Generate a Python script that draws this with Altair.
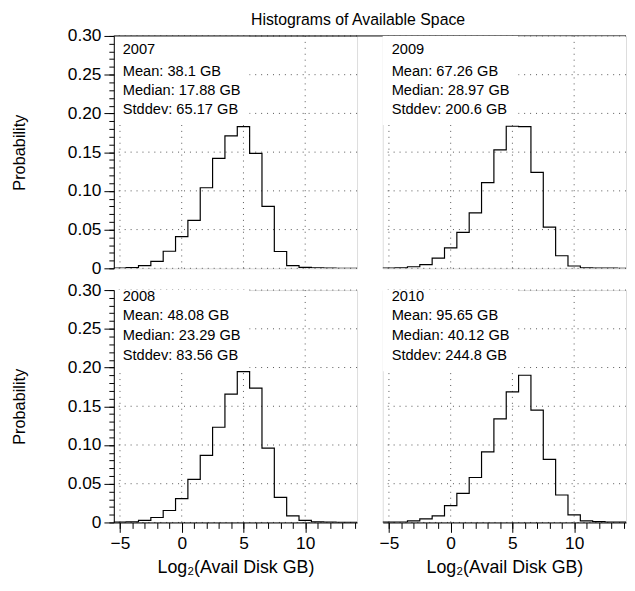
import altair as alt
import pandas as pd

# ---------------- data ----------------
bins = [-6, -5, -4, -3, -2, -1, 0, 1, 2, 3, 4, 5, 6, 7, 8, 9, 10, 11, 12, 13, 14, 15]
p2007 = [0.0, 0.0004, 0.0008, 0.0035, 0.009, 0.022, 0.041, 0.062, 0.104, 0.142, 0.171,
         0.183, 0.1485, 0.080, 0.0217, 0.0035, 0.0012, 0.0007, 0.0002, 0.0001, 0.0001, 0.0]
p2009 = [0.0, 0.0003, 0.0005, 0.002, 0.0047, 0.0132, 0.0264, 0.0464, 0.0715, 0.1107, 0.1528,
         0.1834, 0.183, 0.1238, 0.0532, 0.0162, 0.003, 0.0006, 0.0003, 0.0002, 0.0001, 0.0]
p2008 = [0.0, 0.0004, 0.0008, 0.0026, 0.0064, 0.0154, 0.0307, 0.0555, 0.0866, 0.1229, 0.1656,
         0.1946, 0.1733, 0.096, 0.0324, 0.0085, 0.0026, 0.0008, 0.0003, 0.0001, 0.0001, 0.0]
p2010 = [0.0, 0.0004, 0.0006, 0.0021, 0.0047, 0.0085, 0.0218, 0.0376, 0.058, 0.091, 0.1336,
         0.1686, 0.190, 0.1451, 0.0815, 0.0354, 0.0098, 0.0021, 0.001, 0.0005, 0.0003, 0.0]

years = ["2007", "2009", "2008", "2010"]
means = ["38.1", "67.26", "48.08", "95.65"]
medians = ["17.88", "28.97", "23.29", "40.12"]
stddevs = ["65.17", "200.6", "83.56", "244.8"]

y_major = [0, 0.05, 0.10, 0.15, 0.20, 0.25, 0.30]
y_minor = [round(i * 0.01, 2) for i in range(31)]
x_major = [-5, 0, 5, 10]
x_minor = list(range(-5, 15))

chart_title = "Histograms of Available Space"
x_title = "Log\u2082(Avail Disk GB)"
y_title = "Probability"

# ---------------- layout ----------------
W, H = 246, 235
GAP_X, GAP_Y = 26, 22
FONT = "Liberation Sans"
XDOM = [-5.5, 14.2]
YDOM = [0, 0.30]


def xs():
    return alt.Scale(domain=XDOM, nice=False, zero=False)


def ys():
    return alt.Scale(domain=YDOM, nice=False, zero=False)


dummy = pd.DataFrame({"a": [0]})
grid_style = dict(color="#555555", strokeWidth=1, strokeDash=[1, 5])


def panel(probs, idx, left, bottom, top_row):
    hist_df = pd.DataFrame({"bin": bins, "p": probs})
    layers = []

    if left:
        y_major_axis = alt.Axis(
            values=y_major, tickSize=10, labelPadding=3, labelFontSize=17.5,
            labelExpr="datum.value == 0 ? '0' : format(datum.value, '.2f')",
            title=y_title, titleX=-95.5, titleY=H / 2, titleAngle=270,
            titleAlign="center", titleBaseline="middle", titleFontSize=16.5,
            titleFontWeight="normal", grid=False, domainColor="black",
            tickColor="black", labelColor="black", titleColor="black",
            orient="left", zindex=1, labelFont=FONT, titleFont=FONT)
    else:
        y_major_axis = None
    hgrid = alt.Chart(pd.DataFrame({"v": y_major})).mark_rule(**grid_style).encode(
        y=alt.Y("v:Q", scale=ys(), axis=y_major_axis))
    layers.append(hgrid)

    if bottom:
        x_major_axis = alt.Axis(
            values=x_major, tickSize=10, labelPadding=2, labelFontSize=17.5,
            title=x_title, titleX=W / 2, titleY=51, titleAlign="center",
            titleBaseline="alphabetic", titleFontSize=18, titleFontWeight="normal",
            grid=False, domainColor="black", tickColor="black", labelColor="black",
            titleColor="black", orient="bottom", zindex=1, labelFont=FONT,
            titleFont=FONT, labelFlush=False, labelOverlap=False)
    else:
        x_major_axis = None
    vgrid = alt.Chart(pd.DataFrame({"v": x_major})).mark_rule(**grid_style).encode(
        x=alt.X("v:Q", scale=xs(), axis=x_major_axis))
    layers.append(vgrid)

    box_h = 90 if top_row else 82
    box = alt.Chart(dummy).mark_rect(color="white").encode(
        x=alt.value(0), x2=alt.value(137), y=alt.value(0), y2=alt.value(box_h))
    layers.append(box)

    y_minor_axis = alt.Axis(values=y_minor, tickSize=5, labels=False, domain=False,
                            title=None, grid=False, orient="left", tickColor="black",
                            zindex=1) if left else None
    x_minor_axis = alt.Axis(values=x_minor, tickSize=6, labels=False, domain=False,
                            title=None, grid=False, orient="bottom", tickColor="black",
                            zindex=1) if bottom else None
    hist = alt.Chart(hist_df).mark_line(interpolate="step", color="black",
                                        strokeWidth=1.2, clip=True).encode(
        x=alt.X("bin:Q", scale=xs(), axis=x_minor_axis),
        y=alt.Y("p:Q", scale=ys(), axis=y_minor_axis))
    layers.append(hist)

    lines = [years[idx], "Mean: " + means[idx] + " GB",
             "Median: " + medians[idx] + " GB", "Stddev: " + stddevs[idx] + " GB"]
    offs = [14.2, 37.0, 56.2, 75.3] if top_row else [6.7, 26.7, 46.7, 66.7]
    for s, o in zip(lines, offs):
        layers.append(alt.Chart(dummy).mark_text(
            align="left", baseline="middle", font=FONT, fontSize=14.8, color="black").encode(
            x=alt.value(9), y=alt.value(o), text=alt.value(s)))

    if top_row and left:
        layers.append(alt.Chart(dummy).mark_rule(color="black", strokeWidth=1).encode(
            x=alt.value(0), x2=alt.value(2 * W + GAP_X), y=alt.value(0)))
        layers.append(alt.Chart(dummy).mark_text(
            align="center", baseline="alphabetic", font=FONT, fontSize=16,
            color="black").encode(
            x=alt.value(247), y=alt.value(-11),
            text=alt.value(chart_title)))

    return alt.layer(*layers).resolve_axis(x="independent", y="independent").properties(
        width=W, height=H)


tl = panel(p2007, 0, left=True, bottom=False, top_row=True)
tr = panel(p2009, 1, left=False, bottom=False, top_row=True)
bl = panel(p2008, 2, left=True, bottom=True, top_row=False)
br = panel(p2010, 3, left=False, bottom=True, top_row=False)

chart = alt.concat(
    tl, tr, bl, br, columns=2,
    spacing={"row": GAP_Y, "column": GAP_X}, bounds="flush",
).properties(
    padding={"left": 3, "top": 0, "right": 0, "bottom": 4}
).configure_view(stroke=None).configure(font=FONT)

chart.save("out.html", embed_options={"renderer": "svg", "actions": False})
